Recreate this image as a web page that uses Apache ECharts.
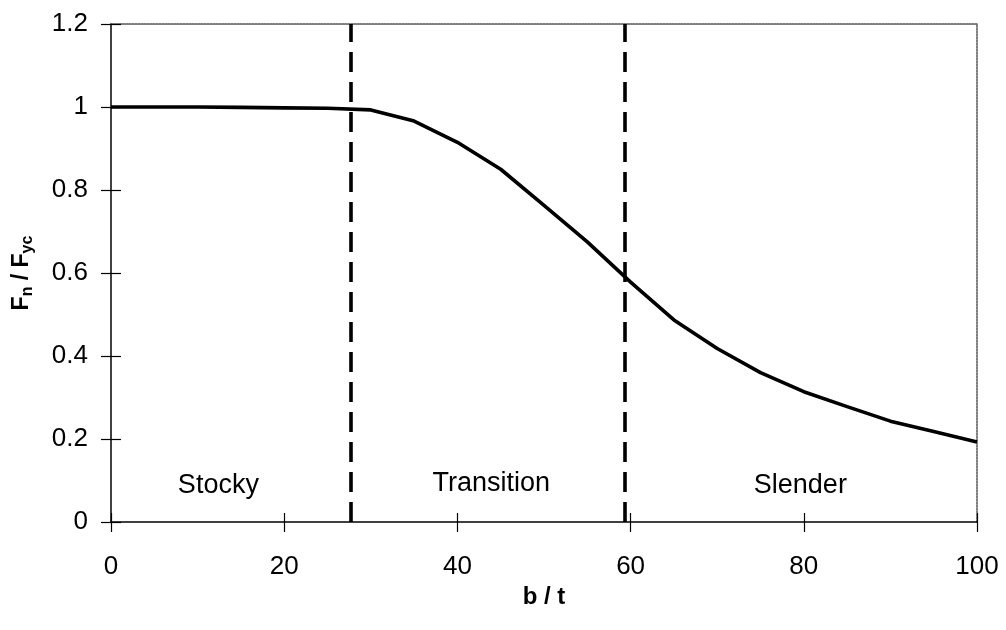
<!DOCTYPE html>
<html>
<head>
<meta charset="utf-8">
<title>Fn / Fyc vs b / t</title>
<script src="https://cdn.jsdelivr.net/npm/echarts@6/dist/echarts.min.js"></script>
<style>
  html, body { margin: 0; padding: 0; background: #fff; }
  #chart { width: 1006px; height: 630px; }
</style>
</head>
<body>
<div id="chart"></div>
<script>
// Width-to-thickness ratio b/t
const slenderness = [0, 5, 10, 15, 20, 25, 30, 35, 40, 45, 50, 55, 60, 65, 70, 75, 80, 85, 90, 95, 100];
// Normalised strength Fn / Fyc
const strengthRatio = [1.0, 1.0, 1.0, 0.999, 0.998, 0.997, 0.993, 0.966, 0.915, 0.850, 0.763, 0.675, 0.578, 0.487, 0.418, 0.360, 0.314, 0.278, 0.243, 0.218, 0.193];
// Limits between the stocky / transition / slender ranges
const rangeLimits = [27.7, 59.3];
const rangeNames = ['Stocky', 'Transition', 'Slender'];

const xTicks = { min: 0, max: 100, interval: 20 };
const yTicks = { min: 0, max: 1.2, interval: 0.2 };

const FONT = '"Liberation Sans", Arial, sans-serif';

const curve = slenderness.map((b, i) => [b, strengthRatio[i]]);

// Where each range name sits (b/t, Fn/Fyc)
const namePlacement = [[12.4, 0.089], [43.9, 0.092], [79.6, 0.089]];
const rangeLabels = rangeNames.map((n, i) => ({ name: n, value: namePlacement[i] }));

const chart = echarts.init(document.getElementById('chart'), null, { renderer: 'canvas' });

const baseX = { type: 'value', min: xTicks.min, max: xTicks.max, interval: xTicks.interval, splitLine: { show: false } };
const baseY = { type: 'value', min: yTicks.min, max: yTicks.max, interval: yTicks.interval, splitLine: { show: false } };

chart.setOption({
  animation: false,
  backgroundColor: '#ffffff',
  grid: { left: 111, right: 29, top: 24, bottom: 108, containLabel: false, outerBoundsMode: 'none' },
  xAxis: [
    Object.assign({}, baseX, {
      position: 'bottom',
      name: 'b / t',
      nameLocation: 'middle',
      nameGap: 47,
      nameTextStyle: { fontFamily: FONT, fontSize: 24, fontWeight: 'bold', color: '#000' },
      axisLine: { show: true, onZero: false, lineStyle: { color: '#000', width: 1.5 } },
      axisTick: { show: true, inside: false, length: 10, lineStyle: { color: '#000', width: 1.2 } },
      axisLabel: { show: true, margin: 32, fontFamily: FONT, fontSize: 26, color: '#000' }
    }),
    Object.assign({}, baseX, {
      position: 'bottom',
      axisLine: { show: false, onZero: false },
      axisTick: { show: true, inside: true, length: 9, lineStyle: { color: '#000', width: 1.2 } },
      axisLabel: { show: false }
    }),
    Object.assign({}, baseX, {
      position: 'top',
      axisLine: { show: true, onZero: false, lineStyle: { color: '#555', width: 1.5, type: [2, 1] } },
      axisTick: { show: false },
      axisLabel: { show: false }
    })
  ],
  yAxis: [
    Object.assign({}, baseY, {
      position: 'left',
      name: '{m|F}{s|n}{m| / F}{s|yc}',
      nameLocation: 'middle',
      nameGap: 75,
      nameRotate: 90,
      nameTextStyle: {
        color: '#000',
        rich: {
          m: { fontFamily: FONT, fontSize: 23, fontWeight: 'bold', color: '#000', lineHeight: 28, verticalAlign: 'middle' },
          s: { fontFamily: FONT, fontSize: 16, fontWeight: 'bold', color: '#000', lineHeight: 28, verticalAlign: 'bottom', padding: [9, 0, 0, 0] }
        }
      },
      axisLine: { show: true, onZero: false, lineStyle: { color: '#000', width: 1.5 } },
      axisTick: { show: true, inside: false, length: 10, lineStyle: { color: '#000', width: 1.2 } },
      axisLabel: { show: true, margin: 23, fontFamily: FONT, fontSize: 26, color: '#000' }
    }),
    Object.assign({}, baseY, {
      position: 'left',
      axisLine: { show: false, onZero: false },
      axisTick: { show: true, inside: true, length: 10, lineStyle: { color: '#000', width: 1.2 } },
      axisLabel: { show: false }
    }),
    Object.assign({}, baseY, {
      position: 'right',
      axisLine: { show: true, onZero: false, lineStyle: { color: '#555', width: 1.5, type: [2, 1] } },
      axisTick: { show: false },
      axisLabel: { show: false }
    })
  ],
  series: [
    {
      type: 'line',
      xAxisIndex: 0,
      yAxisIndex: 0,
      data: curve,
      symbol: 'none',
      smooth: false,
      lineStyle: { color: '#000', width: 3.6 },
      z: 3,
      markLine: {
        silent: true,
        symbol: ['none', 'none'],
        label: { show: false },
        lineStyle: { color: '#000', width: 3.6, type: [20, 10] },
        data: rangeLimits.map(v => ({ xAxis: v }))
      }
    },
    {
      type: 'scatter',
      xAxisIndex: 0,
      yAxisIndex: 0,
      data: rangeLabels,
      symbolSize: 0,
      silent: true,
      itemStyle: { opacity: 1 },
      label: {
        show: true,
        position: 'inside',
        formatter: p => p.name,
        fontFamily: FONT,
        fontSize: 27,
        color: '#000',
        opacity: 1
      }
    }
  ]
});
</script>
</body>
</html>
